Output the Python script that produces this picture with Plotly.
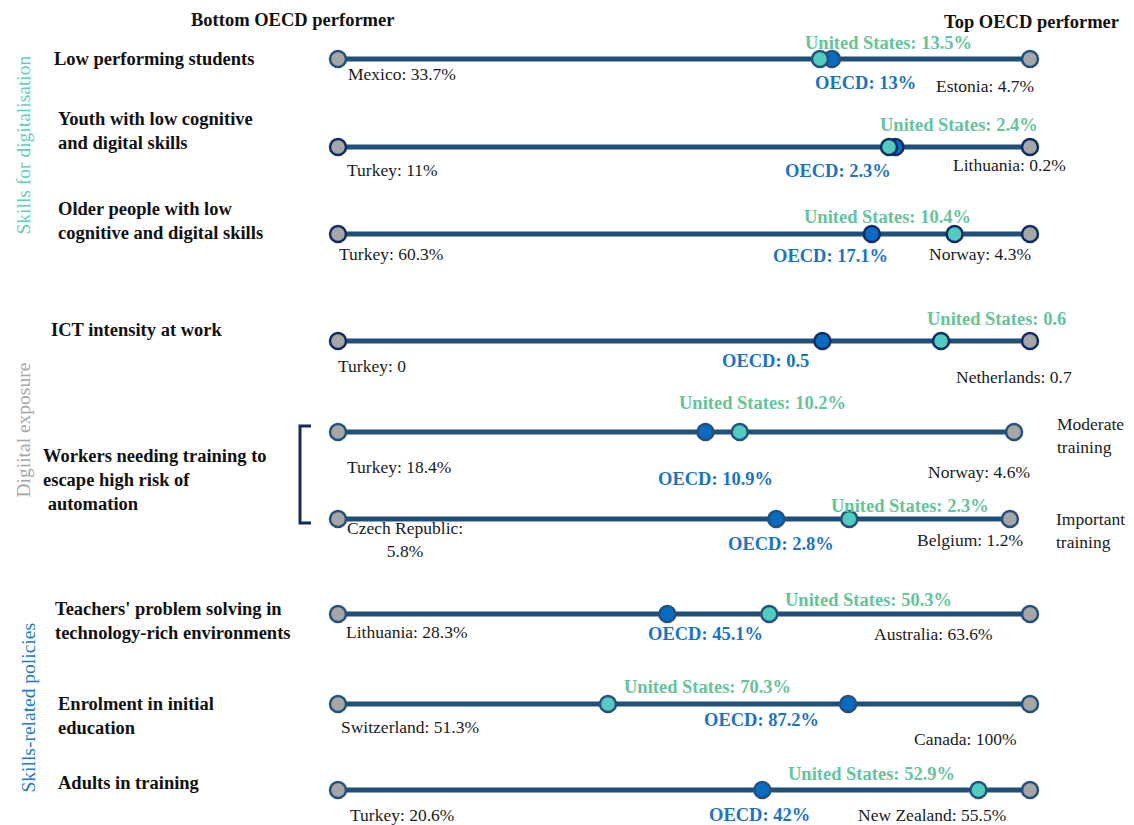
import plotly.graph_objects as go

# ---------------- data ----------------
categories = [
    "Low performing students",
    "Youth with low cognitive<br>and digital skills",
    "Older people with low<br>cognitive and digital skills",
    "ICT intensity at work",
    "Workers needing training to<br>escape high risk of<br> automation",
    None,
    "Teachers' problem solving in<br>technology-rich environments",
    "Enrolment in initial<br>education",
    "Adults in training",
]
bottom_names = ["Mexico", "Turkey", "Turkey", "Turkey", "Turkey", "Czech Republic:<br>", "Lithuania", "Switzerland", "Turkey"]
bottom_vals = [33.7, 11, 60.3, 0, 18.4, 5.8, 28.3, 51.3, 20.6]
top_names = ["Estonia", "Lithuania", "Norway", "Netherlands", "Norway", "Belgium", "Australia", "Canada", "New Zealand"]
top_vals = [4.7, 0.2, 4.3, 0.7, 4.6, 1.2, 63.6, 100, 55.5]
oecd_vals = [13, 2.3, 17.1, 0.49, 10.9, 2.8, 45.1, 87.2, 42]
us_vals = [13.5, 2.4, 10.4, 0.61, 10.2, 2.3, 50.3, 70.3, 52.9]
units = ["%", "%", "%", "", "%", "%", "%", "%", "%"]
label_decimals = [None, None, None, 1, None, None, None, None, None]
side_notes = [None, None, None, None, "Moderate<br>training", "Important<br>training", None, None, None]
groups = ["Skills for digitalisation", "Digiital exposure", "Skills-related policies"]

# ---------------- style / layout ----------------
W, H = 1134, 825
FONT = "Liberation Serif"
LINE = "#1F4E79"
GREY = "#A6A6A6"
OECD_FILL = "#0A6CC0"
US_FILL = "#52CCBF"
US_TXT = "#66C49A"
OECD_TXT = "#1B73C3"
X0, X1 = 338, 1030  # pixel span for 0..1 normalised scale
row_y = [59, 147, 234, 341, 432, 519, 614, 704, 790]
row_span = [1, 1, 1, 1, 0.977, 0.971, 1, 1, 1]
outline = ["#24517F", "#102D66", "#102D66", "#102D66", "#24517F", "#24517F", "#24517F", "#24517F", "#24517F"]
MK = 16

# label placements (pixel centres)
us_lab = [(888, 43), (959, 125), (887, 217), (996, 319), (762, 403), (910, 506), (868, 600), (707, 687), (871, 774)]
oecd_lab = [(865, 83), (838, 171), (830, 256), (765, 361), (715, 479), (781, 544), (705, 634), (761, 720), (759, 815)]
bot_lab = [(402, 74), (392, 170), (391, 254), (372, 366), (399, 467), (405, 539), (407, 632), (410, 727), (402, 815)]
top_lab = [(985, 86), (1009, 165), (980, 254), (1014, 377), (979, 472), (970, 540), (933, 634), (965, 739), (932, 815)]
cat_lab = [(52, 59), (56, 131), (56, 221), (49, 330), (41, 480), None, (53, 621), (56, 716), (56, 783)]
side_lab = [None, None, None, None, (1055, 435), (1054, 530), None, None, None]
group_lab = [(10, 145, "#5DCFC2"), (10, 430, "#A6A6A6"), (15, 708, "#1B7ACA")]

SZ_BOLD = 18.5
SZ_REG = 17.5


def fmt(v, u, d=None):
    return (f"{v:.{d}f}" if d is not None else f"{v:g}") + u


def px(x):
    return x / W


fig = go.Figure()


def ann(pos, text, color, bold=False, size=SZ_REG, xanchor="center", align="center"):
    fig.add_annotation(x=px(pos[0]), y=pos[1], xref="paper", yref="y", text=f"<b>{text}</b>" if bold else text,
                       showarrow=False, xanchor=xanchor, yanchor="middle", align=align,
                       font=dict(family=FONT, size=size, color=color))


for i in range(len(bottom_vals)):
    b, t = bottom_vals[i], top_vals[i]
    norm = lambda v: (v - b) / (t - b) * row_span[i]
    y = row_y[i]
    fig.add_trace(go.Scatter(x=[norm(b), norm(t)], y=[y, y], mode="lines",
                             line=dict(color=LINE, width=5), hoverinfo="skip", showlegend=False))
    fig.add_trace(go.Scatter(x=[norm(b), norm(t)], y=[y, y], mode="markers",
                             marker=dict(size=MK, color=GREY, line=dict(color=outline[i], width=2.5)),
                             showlegend=False))
    fig.add_trace(go.Scatter(x=[norm(oecd_vals[i])], y=[y], mode="markers",
                             marker=dict(size=MK, color=OECD_FILL, line=dict(color=outline[i], width=2.5)),
                             showlegend=False))
    fig.add_trace(go.Scatter(x=[norm(us_vals[i])], y=[y], mode="markers",
                             marker=dict(size=MK, color=US_FILL, line=dict(color=outline[i], width=2.5)),
                             showlegend=False))

    d = label_decimals[i]
    ann(us_lab[i], f"United States: {fmt(us_vals[i], units[i], d)}", US_TXT, bold=True, size=SZ_BOLD)
    ann(oecd_lab[i], f"OECD: {fmt(oecd_vals[i], units[i], d)}", OECD_TXT, bold=True, size=SZ_BOLD)
    bn = bottom_names[i]
    sep = "" if bn.endswith("<br>") else ": "
    ann(bot_lab[i], f"{bn}{sep}{fmt(b, units[i])}", "#1A1A1A")
    ann(top_lab[i], f"{top_names[i]}: {fmt(t, units[i])}", "#1A1A1A")
    if categories[i] and cat_lab[i]:
        ann(cat_lab[i], categories[i], "#111111", bold=True, size=SZ_BOLD, xanchor="left", align="left")
    if side_notes[i]:
        ann(side_lab[i], side_notes[i], "#1A1A1A", xanchor="left", align="left")

# headers
ann((292, 20), "Bottom OECD performer", "#111111", bold=True, size=SZ_BOLD)
ann((1031, 22), "Top OECD performer", "#111111", bold=True, size=SZ_BOLD)

# group labels
for g, (gx, gy, gc) in zip(groups, group_lab):
    fig.add_annotation(x=px(gx), y=gy, xref="paper", yref="y", text=g, showarrow=False, textangle=-90,
                       font=dict(family=FONT, size=19.5, color=gc))

# bracket
fig.add_shape(type="path",
              path=f"M {px(311)},{1-426/H} L {px(300)},{1-426/H} L {px(300)},{1-523/H} L {px(311)},{1-523/H}",
              xref="paper", yref="paper", line=dict(color="#0E2A5E", width=3))

fig.update_layout(
    width=W, height=H, margin=dict(l=0, r=0, t=0, b=0),
    paper_bgcolor="white", plot_bgcolor="white",
    xaxis=dict(range=[-X0 / (X1 - X0), (W - X0) / (X1 - X0)], visible=False, domain=[0, 1]),
    yaxis=dict(range=[H, 0], visible=False, domain=[0, 1]),
)

fig.write_html("out.html", config={"displayModeBar": False},
               post_script="document.body.style.margin='0';document.body.style.overflow='hidden';")
